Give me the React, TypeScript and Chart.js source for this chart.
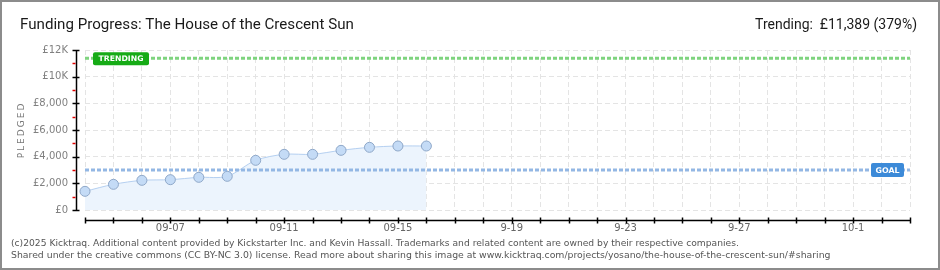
import React, { useEffect, useRef } from 'react';
import { Chart, registerables } from 'chart.js';

Chart.register(...registerables);

const dates = [
  '09-04', '09-05', '09-06', '09-07', '09-08', '09-09', '09-10', '09-11', '09-12', '09-13',
  '09-14', '09-15', '09-16', '09-17', '09-18', '09-19', '09-20', '09-21', '09-22', '09-23',
  '09-24', '09-25', '09-26', '09-27', '09-28', '09-29', '09-30', '10-01', '10-02', '10-03',
];
const pledged = [1400, 1925, 2225, 2275, 2450, 2525, 3725, 4175, 4175, 4475, 4700, 4800, 4800];
const labeledDates = ['09-07', '09-11', '09-15', '09-19', '09-23', '09-27', '10-01'];
const labeledText = ['09-07', '09-11', '09-15', '9-19', '9-23', '9-27', '10-1'];
const yTicks = [0, 2000, 4000, 6000, 8000, 10000, 12000];
const yTickLabels = ['£0', '£2,000', '£4,000', '£6,000', '£8,000', '£10K', '£12K'];
const yMinorTicks = [1000, 3000, 5000, 7000, 9000, 11000];
const goal = 3000;
const trending = 11389;
const trendingPct = 379;
const titleText = 'Funding Progress: The House of the Crescent Sun';
const trendingText = 'Trending:  £11,389 (379%)';
const footerLines = [
  '(c)2025 Kicktraq. Additional content provided by Kickstarter Inc. and Kevin Hassall. Trademarks and related content are owned by their respective companies.',
  'Shared under the creative commons (CC BY-NC 3.0) license. Read more about sharing this image at www.kicktraq.com/projects/yosano/the-house-of-the-crescent-sun/#sharing',
];

function fitFont(ctx: CanvasRenderingContext2D, text: string, family: string, target: number, weight = '') {
  ctx.font = `${weight} 20px ${family}`;
  const w = ctx.measureText(text).width;
  const size = (20 * target) / w;
  ctx.font = `${weight} ${size}px ${family}`;
  return size;
}

const kicktraqPlugin = {
  id: 'kicktraq',
  beforeDraw(chart: any) {
    const ctx = chart.ctx;
    ctx.save();
    ctx.fillStyle = '#ffffff';
    ctx.fillRect(0, 0, chart.width, chart.height);
    ctx.restore();
  },
  afterDatasetsDraw(chart: any) {
    const ctx = chart.ctx;
    const { left, right } = chart.chartArea;
    const y = chart.scales.y;
    ctx.save();
    // trending line
    const ty = y.getPixelForValue(trending);
    ctx.lineWidth = 3;
    ctx.setLineDash([4, 2]);
    ctx.strokeStyle = '#7fd47f';
    ctx.beginPath();
    ctx.moveTo(left, ty);
    ctx.lineTo(right, ty);
    ctx.stroke();
    // goal line
    const gy = y.getPixelForValue(goal);
    ctx.strokeStyle = '#93b7e4';
    ctx.beginPath();
    ctx.moveTo(left, gy);
    ctx.lineTo(right, gy);
    ctx.stroke();
    ctx.setLineDash([]);
    // trending label
    ctx.fillStyle = '#16ab16';
    ctx.beginPath();
    ctx.roundRect(left + 8, ty - 6, 56, 13, 2);
    ctx.fill();
    ctx.fillStyle = '#ffffff';
    ctx.textAlign = 'center';
    ctx.textBaseline = 'middle';
    fitFont(ctx, `${trendingPct > 0 ? 'TRENDING' : ''}`, '"DejaVu Sans"', 45, 'bold');
    ctx.fillText('TRENDING', left + 36, ty + 0.5);
    // goal label
    ctx.fillStyle = '#3c8ad8';
    ctx.beginPath();
    ctx.roundRect(right - 39, gy - 7, 33, 14, 2);
    ctx.fill();
    ctx.fillStyle = '#ffffff';
    fitFont(ctx, 'GOAL', '"DejaVu Sans"', 24, 'bold');
    ctx.fillText('GOAL', right - 22.5, gy + 0.5);
    ctx.restore();
  },
  afterDraw(chart: any) {
    const ctx = chart.ctx;
    const { left, right, top, bottom } = chart.chartArea;
    const x = chart.scales.x;
    const y = chart.scales.y;
    ctx.save();
    // y axis line
    const ax = left - 8.5;
    ctx.strokeStyle = '#000000';
    ctx.lineWidth = 1.5;
    ctx.beginPath();
    ctx.moveTo(ax, top);
    ctx.lineTo(ax, bottom + 1);
    ctx.stroke();
    yTicks.forEach((v) => {
      const py = Math.round(y.getPixelForValue(v)) + 0.5;
      ctx.beginPath();
      ctx.moveTo(ax - 4, py);
      ctx.lineTo(ax + 3, py);
      ctx.stroke();
    });
    ctx.strokeStyle = '#e00000';
    yMinorTicks.forEach((v) => {
      const py = Math.round(y.getPixelForValue(v)) + 0.5;
      ctx.beginPath();
      ctx.moveTo(ax - 4, py);
      ctx.lineTo(ax - 1, py);
      ctx.stroke();
    });
    // x axis line
    const ay = bottom + 10.5;
    ctx.strokeStyle = '#000000';
    ctx.beginPath();
    ctx.moveTo(left, ay);
    ctx.lineTo(right, ay);
    ctx.stroke();
    dates.forEach((_d, i) => {
      const px = Math.round(x.getPixelForValue(i)) + 0.5;
      ctx.beginPath();
      ctx.moveTo(px, ay - 3);
      ctx.lineTo(px, ay + 3);
      ctx.stroke();
    });
    // frame
    ctx.strokeStyle = '#8c8c8c';
    ctx.lineWidth = 2;
    ctx.strokeRect(1, 1, chart.width - 2, chart.height - 2);
    // title
    ctx.fillStyle = '#1a1a1a';
    ctx.textBaseline = 'alphabetic';
    ctx.textAlign = 'left';
    fitFont(ctx, titleText, 'Roboto', 334);
    ctx.fillText(titleText, 20, 29);
    ctx.textAlign = 'right';
    fitFont(ctx, trendingText, 'Roboto', 162);
    ctx.fillText(trendingText, 917, 29);
    // y title
    ctx.save();
    ctx.translate(22, 130);
    ctx.rotate(-Math.PI / 2);
    ctx.textAlign = 'center';
    ctx.textBaseline = 'middle';
    ctx.fillStyle = '#777777';
    ctx.font = '9px "DejaVu Sans"';
    (ctx as any).letterSpacing = '2px';
    ctx.fillText('PLEDGED', 0, 0);
    (ctx as any).letterSpacing = '0px';
    ctx.restore();
    // footer
    ctx.textAlign = 'left';
    ctx.textBaseline = 'middle';
    ctx.fillStyle = '#555555';
    fitFont(ctx, footerLines[0], '"DejaVu Sans"', 729);
    ctx.fillText(footerLines[0], 11, 244);
    fitFont(ctx, footerLines[1], '"DejaVu Sans"', 821);
    ctx.fillText(footerLines[1], 11, 256);
    ctx.restore();
  },
};

export default function App() {
  const ref = useRef<HTMLCanvasElement | null>(null);
  useEffect(() => {
    document.body.style.margin = '0';
    const canvas = ref.current;
    if (!canvas) return;
    const chart = new Chart(canvas, {
      type: 'line',
      data: {
        labels: dates,
        datasets: [
          {
            data: pledged,
            borderColor: '#b5d0f1',
            borderWidth: 1,
            backgroundColor: '#ecf4fd',
            fill: 'origin',
            tension: 0.3,
            pointRadius: 5,
            pointBackgroundColor: '#c4dbf6',
            pointBorderColor: '#8fa8c9',
            pointBorderWidth: 1,
          },
        ],
      },
      options: {
        animation: false,
        responsive: false,
        maintainAspectRatio: false,
        devicePixelRatio: 1,
        layout: { padding: { left: 0, right: 30, top: 50, bottom: 0 } },
        plugins: { legend: { display: false }, tooltip: { enabled: false } },
        scales: {
          x: {
            type: 'category',
            offset: false,
            grid: { color: '#e4e4e4', drawTicks: false, tickLength: 0 },
            border: { display: false, dash: [5, 3] },
            ticks: {
              autoSkip: false,
              maxRotation: 0,
              padding: 12,
              color: '#666666',
              font: { family: '"DejaVu Sans"', size: 10 },
              callback: (_v: any, i: number) => {
                const k = labeledDates.indexOf(dates[i]);
                return k >= 0 ? labeledText[k] : '';
              },
            },
            afterFit: (s: any) => {
              s.height = 60;
            },
          },
          y: {
            min: 0,
            max: 12000,
            grid: { color: '#e4e4e4', drawTicks: false, tickLength: 0 },
            border: { display: false, dash: [5, 3] },
            ticks: {
              stepSize: 2000,
              padding: 17,
              color: '#808080',
              font: { family: '"DejaVu Sans"', size: 10 },
              callback: (v: any) => {
                const k = yTicks.indexOf(Number(v));
                return k >= 0 ? yTickLabels[k] : '';
              },
            },
            afterFit: (s: any) => {
              s.width = 85;
            },
          },
        },
      },
      plugins: [kicktraqPlugin],
    });
    return () => chart.destroy();
  }, []);
  return (
    <div style={{ width: 940, height: 270 }}>
      <canvas ref={ref} width={940} height={270} style={{ display: 'block', width: 940, height: 270 }} />
    </div>
  );
}
